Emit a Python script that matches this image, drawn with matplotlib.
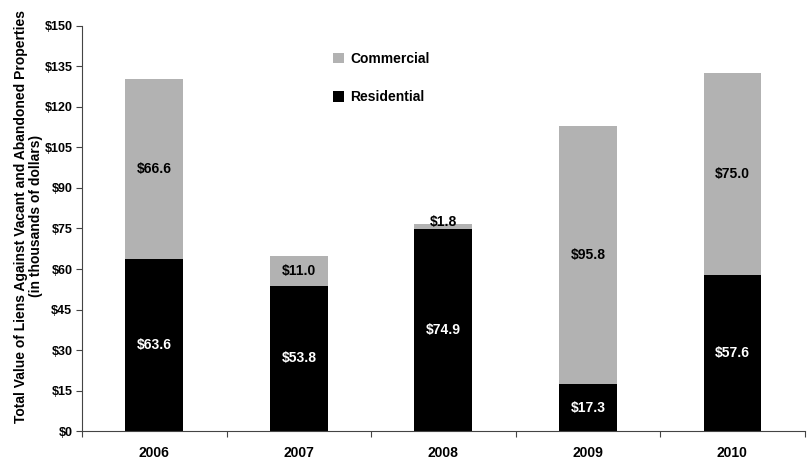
import matplotlib
matplotlib.use("Agg")
import matplotlib.pyplot as plt
import numpy as np

years = ["2006", "2007", "2008", "2009", "2010"]
residential = [63.6, 53.8, 74.9, 17.3, 57.6]
commercial = [66.6, 11.0, 1.8, 95.8, 75.0]
yticks = [0, 15, 30, 45, 60, 75, 90, 105, 120, 135, 150]

plt.rcParams["font.family"] = ["Liberation Sans", "DejaVu Sans"]
plt.rcParams["font.weight"] = "bold"

fig = plt.figure(figsize=(8.12, 4.63), dpi=100)
ax = fig.add_axes([0.101, 0.069, 0.890, 0.875])

x = np.arange(len(years))
width = 0.4
gray = "#b2b2b2"

ax.bar(x, residential, width, color="black", label="Residential", zorder=2)
ax.bar(x, commercial, width, bottom=residential, color=gray, label="Commercial", zorder=2)

for xi, r, c in zip(x, residential, commercial):
    ax.text(xi, r / 2, f"${r:.1f}", ha="center", va="center", color="white",
            fontsize=10, fontweight="bold")
    ax.text(xi, r + c / 2 + (1.5 if c < 5 else 0), f"${c:.1f}", ha="center", va="center",
            color="black", fontsize=10, fontweight="bold")

ax.set_xlim(-0.5, len(years) - 0.5)
ax.set_ylim(0, 150)
ax.set_yticks(yticks)
ax.set_yticklabels([f"${v}" for v in yticks], fontsize=9, fontweight="bold")
ax.set_xticks(np.arange(-0.5, len(years), 1.0))
ax.set_xticklabels([])
ax.set_xticks(x, minor=True)
ax.set_xticklabels(years, minor=True, fontsize=10, fontweight="bold")
ax.tick_params(axis="x", which="minor", length=0, pad=11)
ax.tick_params(axis="x", which="major", length=4, width=0.8, color="#444444")
ax.tick_params(axis="y", length=4, width=0.8, color="#444444", pad=3)

for side in ["top", "right"]:
    ax.spines[side].set_visible(False)
for side in ["left", "bottom"]:
    ax.spines[side].set_color("#444444")
    ax.spines[side].set_linewidth(0.8)

ax.set_ylabel("Total Value of Liens Against Vacant and Abandoned Properties\n(in thousands of dollars)",
              fontsize=10, fontweight="bold", linespacing=1.1)
ax.yaxis.set_label_coords(-0.054, 0.53)

handles, labels = ax.get_legend_handles_labels()
ax.legend(handles[::-1], labels[::-1], loc="upper left", bbox_to_anchor=(0.395, 0.915),
          bbox_transform=fig.transFigure, frameon=False, handlelength=0.8, handleheight=0.8,
          handletextpad=0.4, labelspacing=1.75, prop={"size": 10, "weight": "bold"})

fig.savefig("out.png", dpi=100)
